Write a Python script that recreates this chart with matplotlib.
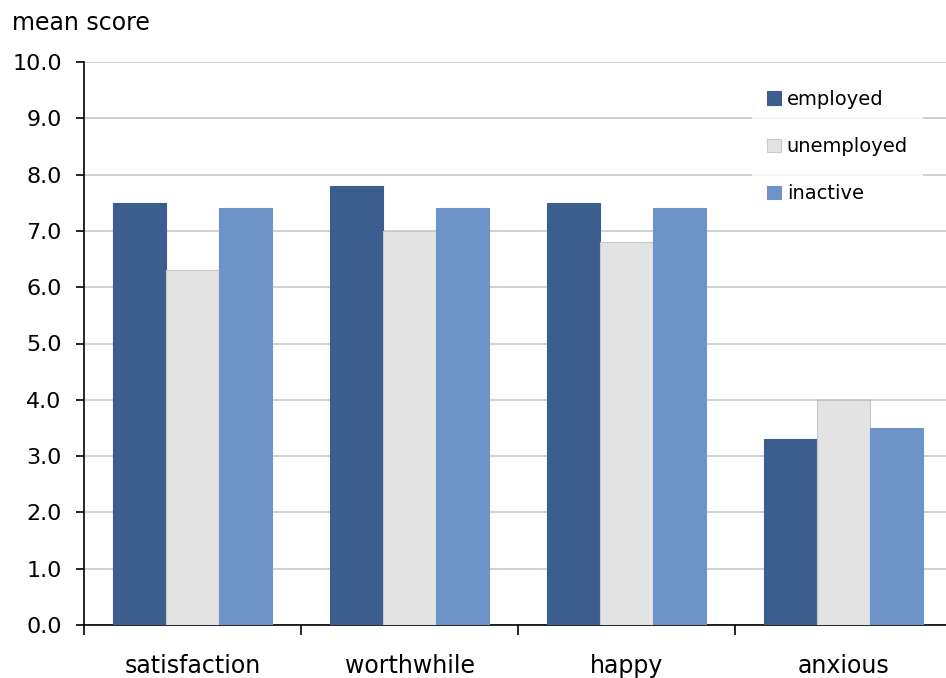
import matplotlib
matplotlib.use("Agg")
import matplotlib.pyplot as plt
import numpy as np

# data
categories = ["satisfaction", "worthwhile", "happy", "anxious"]
employed = [7.5, 7.8, 7.5, 3.3]
unemployed = [6.3, 7.0, 6.8, 4.0]
inactive = [7.4, 7.4, 7.4, 3.5]
series_names = ["employed", "unemployed", "inactive"]
colors = ["#3B5E8F", "#E3E3E3", "#6E93C6"]

plt.rcParams["font.family"] = ["DejaVu Sans"]

fig = plt.figure(figsize=(9.46, 6.78), dpi=100)
ax = fig.add_axes([84 / 946, 1 - 625 / 678, 862 / 946, 563 / 678])

x = np.arange(len(categories))
w = 0.245
for i, (vals, name, c) in enumerate(zip([employed, unemployed, inactive], series_names, colors)):
    ec = "#C8C8C8" if name == "unemployed" else c
    ax.bar(x + (i - 1) * w, vals, w, color=c, edgecolor=ec, linewidth=0.8, label=name, zorder=3)

ax.set_ylim(0, 10)
ax.set_xlim(-0.5, -0.5 + 862 / 217)
yt = np.arange(0, 10.01, 1.0)
ax.set_yticks(yt)
ax.set_yticklabels([f"{v:.1f}" for v in yt], fontsize=16)
ax.yaxis.grid(True, color="#C8C8C8", linewidth=1.2, zorder=0)
ax.set_axisbelow(True)

ax.set_xticks(x)
ax.set_xticklabels(categories, fontsize=17)
ax.set_xticks(np.arange(-0.5, 3.5, 1.0), minor=True)
ax.tick_params(axis="x", which="major", length=0, pad=21)
ax.tick_params(axis="x", which="minor", length=7, width=1.2, direction="out")
ax.tick_params(axis="y", length=6, width=1.2, direction="out", pad=10)

for s in ["top", "right"]:
    ax.spines[s].set_visible(False)
ax.spines["left"].set_linewidth(1.2)
ax.spines["bottom"].set_linewidth(1.2)

leg = ax.legend(loc="upper right", bbox_to_anchor=(0.985, 0.995), frameon=True, fontsize=14,
                handlelength=0.7, handleheight=0.7, handletextpad=0.3, labelspacing=1.45,
                borderpad=0.8, fancybox=False)
leg.get_frame().set_facecolor("white")
leg.get_frame().set_linewidth(0)

fig.text(12 / 946, 1 - 23 / 678, "mean score", fontsize=17, va="center", ha="left")

fig.savefig("out.png", dpi=100)
